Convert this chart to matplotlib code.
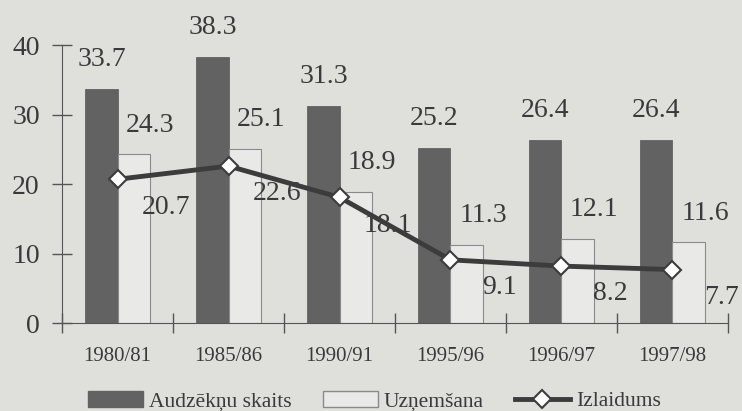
import matplotlib.pyplot as plt
import numpy as np
from matplotlib.lines import Line2D
from matplotlib.patches import Patch

years = ['1980/81', '1985/86', '1990/91', '1995/96', '1996/97', '1997/98']
audzekni = [33.7, 38.3, 31.3, 25.2, 26.4, 26.4]
uznemsana = [24.3, 25.1, 18.9, 11.3, 12.1, 11.6]
izlaidums = [20.7, 22.6, 18.1, 9.1, 8.2, 7.7]

bg = '#dfdfdc'
dark = '#626262'
light = '#e9e9e7'
line_col = '#3c3c3c'
txt = '#3a3a3a'

plt.rcParams['font.family'] = ['Liberation Serif', 'DejaVu Serif']

fig = plt.figure(figsize=(7.42, 4.11), dpi=100, facecolor=bg)
ax = fig.add_axes([0.0836, 0.214, 0.8975, 0.676])
ax.set_facecolor(bg)

x = np.arange(len(years))
w = 0.29
ax.bar(x - w / 2, audzekni, w, color=dark, edgecolor=dark, linewidth=0.6, zorder=2)
ax.bar(x + w / 2, uznemsana, w, color=light, edgecolor='#8a8a8a', linewidth=0.8, zorder=2)
ax.plot(x, izlaidums, color=line_col, linewidth=3.5, marker='D', markersize=9,
        markerfacecolor='white', markeredgecolor=line_col, markeredgewidth=1.5, zorder=4)

for i in range(len(years)):
    ax.annotate(f'{audzekni[i]}', (x[i] - w / 2, audzekni[i]), xytext=(0, 12),
                textcoords='offset points', ha='center', va='bottom', fontsize=20, color=txt)
    ax.annotate(f'{uznemsana[i]}', (x[i] + w / 2, uznemsana[i]), xytext=(12, 12),
                textcoords='offset points', ha='center', va='bottom', fontsize=20, color=txt)
    ax.annotate(f'{izlaidums[i]}', (x[i], izlaidums[i]), xytext=(35, -11),
                textcoords='offset points', ha='center', va='top', fontsize=20, color=txt)

ax.set_xlim(-0.5, len(years) - 0.5)
ax.set_ylim(0, 40)
ax.set_yticks([0, 10, 20, 30, 40])
ax.tick_params(axis='y', direction='inout', length=14, width=1, colors='#555555',
               labelsize=20, labelcolor=txt, pad=9)
ax.set_xticks(x)
ax.set_xticklabels(years)
ax.set_xticks(np.arange(-0.5, len(years)), minor=True)
ax.tick_params(axis='x', which='major', length=0, labelsize=15, labelcolor=txt, pad=17)
ax.tick_params(axis='x', which='minor', direction='inout', length=14, width=1, colors='#555555')
for s in ['top', 'right']:
    ax.spines[s].set_visible(False)
ax.spines['left'].set_color('#555555')
ax.spines['bottom'].set_color('#555555')

handles = [
    Patch(facecolor=dark, edgecolor=dark),
    Patch(facecolor=light, edgecolor='#8a8a8a'),
    Line2D([0], [0], color=line_col, linewidth=3.5, marker='D', markersize=9,
           markerfacecolor='white', markeredgecolor=line_col, markeredgewidth=1.5),
]
fig.legend(handles, ['Audzēkņu skaits', 'Uzņemšana', 'Izlaidums'], loc='center left',
           bbox_to_anchor=(0.1186, 0.024), ncol=3, frameon=False, fontsize=15.5,
           handlelength=2.55, handleheight=0.8, columnspacing=1.45, handletextpad=0.28,
           borderpad=0, borderaxespad=0, labelcolor=txt)

fig.savefig('out.png', dpi=100, facecolor=bg)
